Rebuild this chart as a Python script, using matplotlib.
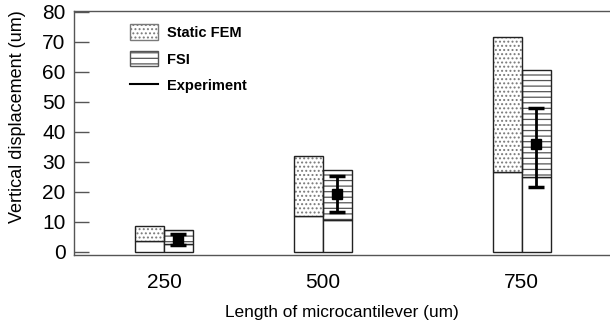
import numpy as np
import matplotlib
matplotlib.use("Agg")
import matplotlib.pyplot as plt
from matplotlib.patches import Patch
from matplotlib.lines import Line2D

# ── data ──
lengths = ["250", "500", "750"]
static_total = [8.5, 32.0, 71.5]
static_lower = [3.7, 12.0, 26.7]
fsi_total = [7.2, 27.3, 60.8]
fsi_lower = [2.7, 10.8, 25.0]
exp_mean = [4.3, 19.3, 36.0]
exp_low = [2.2, 13.3, 21.7]
exp_high = [6.0, 25.3, 48.0]

# ── layout ──
group_pos = np.array([1.0, 2.0, 3.25])
width = 0.182
edge = "#222222"

plt.rcParams['font.family'] = ['Liberation Sans', 'DejaVu Sans']
plt.rcParams['hatch.linewidth'] = 0.9

fig = plt.figure(figsize=(6.10, 3.29), dpi=100)
ax = fig.add_axes([74 / 610, 1 - 255 / 329, 536 / 610, 244 / 329])

x_static = group_pos - width / 2
x_fsi = group_pos + width / 2
static_upper = np.array(static_total) - np.array(static_lower)
fsi_upper = np.array(fsi_total) - np.array(fsi_lower)

# lower white segments
ax.bar(x_static, static_lower, width, color="white", edgecolor=edge, linewidth=1)
ax.bar(x_fsi, fsi_lower, width, color="white", edgecolor=edge, linewidth=1)

# hatched upper segments (hatch colour taken from edgecolor, outline drawn after)
ax.bar(x_static, static_upper, width, bottom=static_lower, color="white",
       edgecolor="#7a7a7a", hatch="....", linewidth=0)
ax.bar(x_fsi, fsi_upper, width, bottom=fsi_lower, color="white",
       edgecolor="#555555", hatch="---", linewidth=0)
ax.bar(x_static, static_upper, width, bottom=static_lower, fill=False,
       edgecolor=edge, linewidth=1)
ax.bar(x_fsi, fsi_upper, width, bottom=fsi_lower, fill=False,
       edgecolor=edge, linewidth=1)

# experiment
yerr = [np.array(exp_mean) - np.array(exp_low), np.array(exp_high) - np.array(exp_mean)]
ax.errorbar(x_fsi, exp_mean, yerr=yerr, fmt="s", color="black", markersize=6.5,
            elinewidth=2, capsize=5.5, capthick=2.5)

ax.set_xlim(0.434, 3.805)
ax.set_ylim(-1, 80.3)
ax.set_xticks(group_pos)
ax.set_xticklabels(lengths)
ax.set_yticks(np.arange(0, 81, 10))
ax.tick_params(axis="x", length=0, pad=13, labelsize=15)
ax.tick_params(axis="y", direction="in", length=11, width=1, color="#555555",
               pad=6, labelsize=15)
for side in ["left", "top", "bottom"]:
    ax.spines[side].set_color("#555555")
    ax.spines[side].set_linewidth(1)
ax.spines["right"].set_visible(False)

ax.set_xlabel("Length of microcantilever (um)", fontsize=12.4, labelpad=9)
ax.set_ylabel("Vertical displacement (um)", fontsize=13)
ax.yaxis.set_label_coords(-0.09, 0.566)

handles = [
    Patch(facecolor="white", edgecolor="#7a7a7a", hatch="....", label="Static FEM"),
    Patch(facecolor="white", edgecolor="#555555", hatch="---", label="FSI"),
    Line2D([0], [0], color="black", linewidth=1.5, label="Experiment"),
]
leg = ax.legend(handles=handles, loc="upper left", bbox_to_anchor=(0.091, 0.975),
                frameon=False, borderpad=0, handlelength=1.93, handleheight=1.25,
                labelspacing=0.75, handletextpad=0.6,
                prop={"size": 10.5, "weight": "bold"})

fig.savefig("out.png", dpi=100)
